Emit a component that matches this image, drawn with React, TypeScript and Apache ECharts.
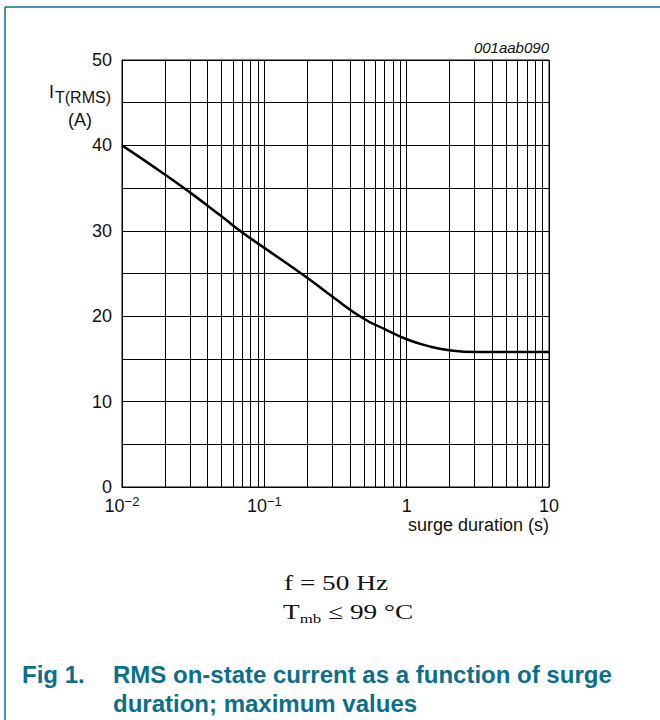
import React, { useEffect, useRef } from "react";
import * as echarts from "echarts";

const durations = [0.01, 0.02, 0.03, 0.05, 0.07, 0.1, 0.2, 0.3, 0.5, 0.7, 1, 1.5, 2, 3, 5, 10];
const currents = [40, 36.6, 34.5, 31.7, 29.8, 28.0, 24.5, 22.3, 19.7, 18.5, 17.3, 16.4, 16.0, 15.8, 15.8, 15.8];
const decades = [0.01, 0.1, 1];
const minorMultipliers = [2, 3, 4, 5, 6, 7, 8, 9];
const yTickLabels = [0, 10, 20, 30, 40, 50];

const TEAL = "#0b6f8c";
const SANS = "'Liberation Sans', Arial, sans-serif";
const SERIF = "'Liberation Serif', 'Times New Roman', serif";

export default function App() {
  const ref = useRef<HTMLDivElement>(null);
  useEffect(() => {
    document.body.style.margin = "0";
    if (!ref.current) return;
    const chart = echarts.init(ref.current, null, { renderer: "svg" });
    const minorLines: any[] = [];
    decades.forEach((d) => minorMultipliers.forEach((m) => minorLines.push({ xAxis: +(d * m).toPrecision(3) })));

    chart.setOption({
      animation: false,
      backgroundColor: "#fff",
      grid: { left: 122, top: 60, right: 111, bottom: 233, show: true, borderColor: "#000", borderWidth: 1 },
      xAxis: {
        type: "log",
        logBase: 10,
        min: 0.01,
        max: 10,
        axisLine: { show: true, lineStyle: { color: "#000", width: 1 } },
        axisTick: { show: false },
        splitLine: { show: true, lineStyle: { color: "#000", width: 1 } },
        axisLabel: {
          margin: 8,
          color: "#111",
          fontFamily: SANS,
          fontSize: 18,
          formatter: (v: number) => {
            const e = Math.round(Math.log10(v));
            if (e === -2) return "{b|10}{sup|−2}";
            if (e === -1) return "{b|10}{sup|−1}";
            if (e === 0) return "{b|1}";
            return "{b|10}";
          },
          rich: {
            b: { fontSize: 18, fontFamily: SANS, color: "#111", lineHeight: 22 },
            sup: { fontSize: 13, fontFamily: SANS, color: "#111", lineHeight: 22, verticalAlign: "top" },
          },
        },
      },
      yAxis: {
        type: "value",
        min: 0,
        max: 50,
        interval: 5,
        axisLine: { show: true, lineStyle: { color: "#000", width: 1 } },
        axisTick: { show: false },
        splitLine: { show: true, lineStyle: { color: "#000", width: 1 } },
        axisLabel: {
          margin: 10,
          color: "#111",
          fontFamily: SANS,
          fontSize: 18,
          formatter: (v: number) => (yTickLabels.includes(v) ? String(v) : ""),
        },
      },
      series: [
        {
          type: "line",
          data: durations.map((d, i) => [d, currents[i]]),
          showSymbol: false,
          smooth: 0.5,
          lineStyle: { color: "#000", width: 2.5 },
          silent: true,
          markLine: {
            silent: true,
            symbol: "none",
            label: { show: false },
            lineStyle: { color: "#000", width: 1, type: "solid" },
            data: minorLines,
          },
          z: 5,
        },
      ],
      graphic: [
        { type: "line", shape: { x1: 5, y1: 7, x2: 660, y2: 7 }, style: { stroke: TEAL, lineWidth: 1.5 } },
        { type: "line", shape: { x1: 5, y1: 7, x2: 5, y2: 720 }, style: { stroke: TEAL, lineWidth: 1.5 } },
        { type: "text", x: 549, y: 47, style: { text: "001aab090", font: `italic 15px ${SANS}`, fill: "#111", align: "right", verticalAlign: "middle" } },
        { type: "text", x: 49, y: 92, style: { text: "I", font: `18px ${SANS}`, fill: "#111", align: "left", verticalAlign: "middle" } },
        { type: "text", x: 55, y: 97, style: { text: "T(RMS)", font: `16px ${SANS}`, fill: "#111", align: "left", verticalAlign: "middle" } },
        { type: "text", x: 80, y: 120, style: { text: "(A)", font: `18px ${SANS}`, fill: "#111", align: "center", verticalAlign: "middle" } },
        { type: "text", x: 549, y: 525, style: { text: "surge duration (s)", font: `18px ${SANS}`, fill: "#111", align: "right", verticalAlign: "middle" } },
        { type: "text", x: 336, y: 583, scaleX: 1.3, style: { text: "f = 50 Hz", font: `21px ${SERIF}`, fill: "#111", align: "center", verticalAlign: "middle" } },
        {
          type: "text",
          x: 283,
          y: 612,
          scaleX: 1.3,
          style: {
            text: "{a|T}{s|mb}{a| ≤ 99 °C}",
            align: "left",
            verticalAlign: "middle",
            rich: {
              a: { fontFamily: SERIF, fontSize: 21, fill: "#111", color: "#111", lineHeight: 26 },
              s: { fontFamily: SERIF, fontSize: 13, fill: "#111", color: "#111", lineHeight: 26, verticalAlign: "bottom" },
            },
          },
        },
        { type: "text", x: 22, y: 674, style: { text: "Fig 1.", font: `bold 24px ${SANS}`, fill: TEAL, align: "left", verticalAlign: "middle" } },
        { type: "text", x: 113, y: 674, style: { text: "RMS on-state current as a function of surge", font: `bold 24px ${SANS}`, fill: TEAL, align: "left", verticalAlign: "middle" } },
        { type: "text", x: 113, y: 703, style: { text: "duration; maximum values", font: `bold 24px ${SANS}`, fill: TEAL, align: "left", verticalAlign: "middle" } },
      ],
    });
    return () => chart.dispose();
  }, []);
  return <div ref={ref} style={{ width: 660, height: 720 }} />;
}
